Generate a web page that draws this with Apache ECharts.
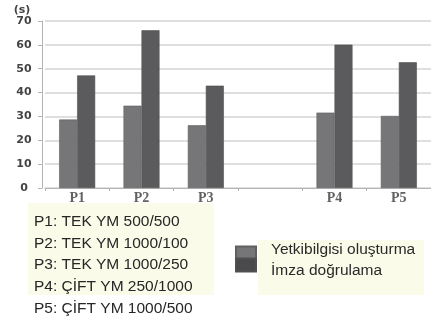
<!DOCTYPE html>
<html>
<head>
<meta charset="utf-8">
<script src="https://cdn.jsdelivr.net/npm/echarts@6/dist/echarts.min.js"></script>
<style>
  html, body { margin: 0; padding: 0; background: #ffffff; }
  #chart { width: 431px; height: 325px; }
</style>
</head>
<body>
<div id="chart"></div>
<script>
// Categories (an empty slot separates the TEK and ÇİFT groups)
var categories = ['P1', 'P2', 'P3', '', 'P4', 'P5'];

// Times in seconds
var seriesNames = ['Yetkibilgisi oluşturma', 'İmza doğrulama'];
var credentialTimes = [28.7, 34.5, 26.3, null, 31.6, 30.2];
var signatureTimes = [47.2, 66.1, 42.9, null, 60.1, 52.7];

// Y-axis scale
var yMin = 0, yMax = 70, yStep = 10;

// Scenario descriptions listed under the plot
var notes = [
  'P1: TEK YM 500/500',
  'P2: TEK YM 1000/100',
  'P3: TEK YM 1000/250',
  'P4: ÇİFT YM 250/1000',
  'P5: ÇİFT YM 1000/500'
];

var colors = ['#767678', '#5b5b5d'];
var sansFont = '"Liberation Sans", Arial, sans-serif';
var textSize = 15.5;

var chart = echarts.init(document.getElementById('chart'), null, { renderer: 'canvas' });

var noteTexts = notes.map(function (t, i) {
  return {
    type: 'text',
    left: 34,
    top: 213.5 + i * 21.75,
    z: 10,
    style: { text: t, font: textSize + 'px ' + sansFont, fill: '#262626' }
  };
});

var legendBase = {
  orient: 'vertical',
  left: 235,
  padding: 0,
  icon: 'rect',
  itemWidth: 20,
  itemHeight: 13,
  selectedMode: false,
  z: 10
};

// Legend label with its own vertical shift (via rich-text padding)
function legendText(padTop, padBottom) {
  return {
    fontFamily: sansFont,
    fontSize: textSize,
    color: '#2a2a2a',
    rich: {
      t: {
        fontFamily: sansFont,
        fontSize: textSize,
        color: '#2a2a2a',
        padding: [padTop, 0, padBottom, 10]
      }
    }
  };
}

var option = {
  backgroundColor: '#ffffff',
  animation: false,
  color: colors,
  grid: { left: 45, top: 21, width: 389, height: 167, containLabel: false },
  legend: [
    Object.assign({}, legendBase, {
      data: [seriesNames[0]],
      top: 241.5,
      formatter: function (name) { return '{t|' + name + '}'; },
      textStyle: legendText(0, 7)
    }),
    Object.assign({}, legendBase, {
      data: [{ name: seriesNames[1], itemStyle: { color: '#4a4a4c' } }],
      top: 257.5,
      formatter: function (name) { return '{t|' + name + '}'; },
      textStyle: legendText(11, 0)
    })
  ],
  xAxis: {
    type: 'category',
    data: categories,
    axisLine: { lineStyle: { color: '#b4b4b4', width: 1 } },
    axisTick: { show: true, length: 3, lineStyle: { color: '#b4b4b4' } },
    axisLabel: {
      margin: 3,
      fontFamily: '"Liberation Serif", "Times New Roman", serif',
      fontSize: 14,
      fontWeight: 'bold',
      color: '#626262'
    }
  },
  yAxis: {
    type: 'value',
    min: yMin,
    max: yMax,
    interval: yStep,
    offset: 3,
    name: '(s)',
    nameLocation: 'end',
    nameGap: 5,
    nameTextStyle: {
      fontFamily: '"DejaVu Sans", sans-serif',
      fontWeight: 'bold',
      fontSize: 11,
      color: '#444444',
      align: 'center',
      padding: [0, 40, 0, 0]
    },
    axisLine: { show: true, lineStyle: { color: '#b4b4b4', width: 1 } },
    axisTick: { show: true, length: 4, lineStyle: { color: '#b4b4b4' } },
    axisLabel: {
      margin: 18,
      align: 'center',
      fontFamily: '"DejaVu Sans", sans-serif',
      fontWeight: 'bold',
      fontSize: 11,
      color: '#444444'
    },
    splitLine: { lineStyle: { color: '#d4d4d4', width: 1.5 } }
  },
  series: [
    {
      name: seriesNames[0],
      type: 'bar',
      data: credentialTimes,
      barWidth: 18,
      barGap: '0%',
      itemStyle: { color: colors[0], borderColor: '#606062', borderWidth: 0.6 }
    },
    {
      name: seriesNames[1],
      type: 'bar',
      data: signatureTimes,
      barWidth: 18,
      barGap: '0%',
      itemStyle: { color: colors[1], borderColor: '#505052', borderWidth: 0.6 }
    }
  ],
  graphic: [
    {
      type: 'rect',
      left: 28,
      top: 203,
      z: 1,
      shape: { width: 186, height: 92 },
      style: { fill: '#fbfbe9' }
    },
    {
      type: 'rect',
      left: 258,
      top: 240,
      z: 1,
      shape: { width: 166, height: 55 },
      style: { fill: '#fbfbe9' }
    }
  ].concat(noteTexts)
};

chart.setOption(option);
</script>
</body>
</html>
